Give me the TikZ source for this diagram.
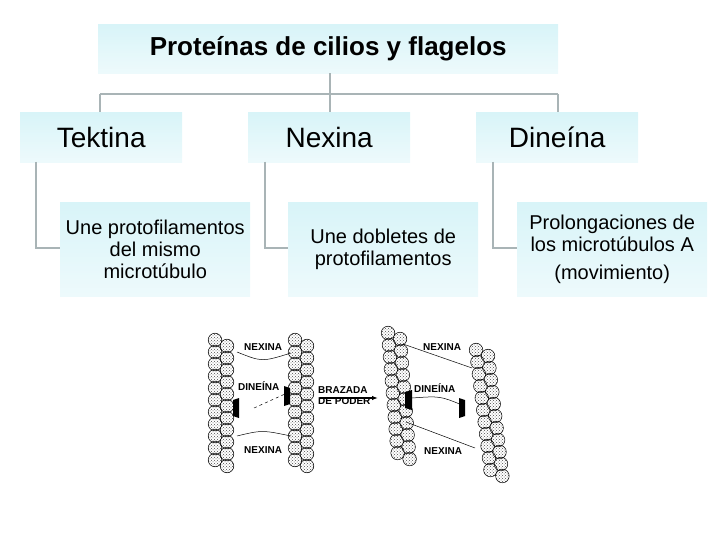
\documentclass[tikz,border=0pt]{standalone}
\usepackage{fontspec}
\setmainfont{Liberation Sans}
\usetikzlibrary{patterns,arrows.meta}
\definecolor{bx}{HTML}{D8F4F8}
\definecolor{ln}{HTML}{A9B4B6}
\begin{document}
\begin{tikzpicture}[x=1pt,y=-1pt,
  box/.style={inner sep=0pt,anchor=north west,top color=bx,bottom color=bx!45,align=center},
  conn/.style={draw=ln,line width=2.6pt},
  tub/.style={draw=black,line width=0.5pt,pattern=crosshatch dots,pattern color=black!70},
  lab/.style={font=\fontsize{10}{11}\selectfont\bfseries,inner sep=0pt},
  thin/.style={draw=black,line width=0.5pt}]
\useasboundingbox (0,0) rectangle (720,540);
\node[box,minimum width=460pt,minimum height=49pt,font=\fontsize{26}{28}\selectfont\bfseries] (t) at (98,24) {Proteínas de cilios y flagelos};
\node[box,minimum width=162pt,minimum height=50pt,font=\fontsize{28}{30}\selectfont] (a) at (20,112) {Tektina};
\node[box,minimum width=162pt,minimum height=50pt,font=\fontsize{28}{30}\selectfont] (b) at (248,112) {Nexina};
\node[box,minimum width=162pt,minimum height=50pt,font=\fontsize{28}{30}\selectfont] (c) at (476,112) {\hspace*{0pt}Dineína};
\node[box,minimum width=190pt,minimum height=94pt,font=\fontsize{20}{22}\selectfont] (a2) at (60,202) {Une protofilamentos\\del mismo\\microtúbulo};
\node[box,minimum width=190pt,minimum height=94pt,font=\fontsize{20}{22}\selectfont] (b2) at (288,202) {Une dobletes de\\protofilamentos};
\node[box,minimum width=190pt,minimum height=94pt,font=\fontsize{20}{22}\selectfont] (c2) at (517,202) {Prolongaciones de\\los microtúbulos A\\[6pt](movimiento)};
\coordinate (m) at (330,94);
\draw[conn] (t.south -| m) -- (m);
\draw[conn] (100,94) -- (558,94);
\draw[conn] (100,94) -- (a.north -| 100,0);
\draw[conn] (m) -- (b.north -| m);
\draw[conn] (558,94) -- (c.north -| 558,0);
\draw[conn] (36,162) |- (a2.west |- 0,248);
\draw[conn] (265,162) |- (b2.west |- 0,248);
\draw[conn] (493,162) |- (c2.west |- 0,248);
% microtubules
\foreach \k in {0,...,10}{
  \path[tub] (215,{340+12*\k}) circle (6.8) (227,{346+12*\k}) circle (6.8);
  \path[tub] (295,{340+12*\k}) circle (6.8) (307,{346+12*\k}) circle (6.8);
  \path[tub] ({388+0.08*12*\k},{333+12*\k}) circle (6.8) ({400+0.08*12*\k},{339+12*\k}) circle (6.8);
  \path[tub] ({476+0.12*12*\k},{350+12*\k}) circle (6.8) ({488+0.12*12*\k},{356+12*\k}) circle (6.8);
}
% dynein arms
\fill (233,400) -- (239,398) -- (239,418) -- (233,416) -- cycle;
\fill (290,388) -- (284,386) -- (284,406) -- (290,404) -- cycle;
\fill (405,392) -- (412,390) -- (412,410) -- (405,408) -- cycle;
\fill (465,400) -- (459,398) -- (459,418) -- (465,416) -- cycle;
% labels
\node[lab,anchor=west] (n1) at (244,347) {NEXINA};
\node[lab,anchor=west] (d1) at (238,386) {DINEÍNA};
\node[lab,anchor=west] (n2) at (244,450) {NEXINA};
\node[lab,anchor=west] (n3) at (423,347) {NEXINA};
\node[lab,anchor=west] (d3) at (414,388) {DINEÍNA};
\node[lab,anchor=west] (n4) at (424,451) {NEXINA};
\node[lab,anchor=west,align=left] (bp) at (318,396) {BRAZADA\\DE PODER};
\coordinate (ar1) at (320,398); \coordinate (ar2) at (378,398);
\draw[line width=1.2pt,-{Latex[length=6pt]}] (ar1) -- (ar2);
% connector lines
\draw[thin] (237,352) .. controls (262,362) .. (291,353);
\draw[thin] (237,436) .. controls (262,430) .. (291,436);
\draw[thin,dashed] (254,408) -- (285,394);
\draw[thin] (403,344) -- (472,368);
\draw[thin] (406,422) -- (475,448);
\draw[thin] (412,398) .. controls (440,396) .. (462,405);
\end{tikzpicture}
\end{document}
